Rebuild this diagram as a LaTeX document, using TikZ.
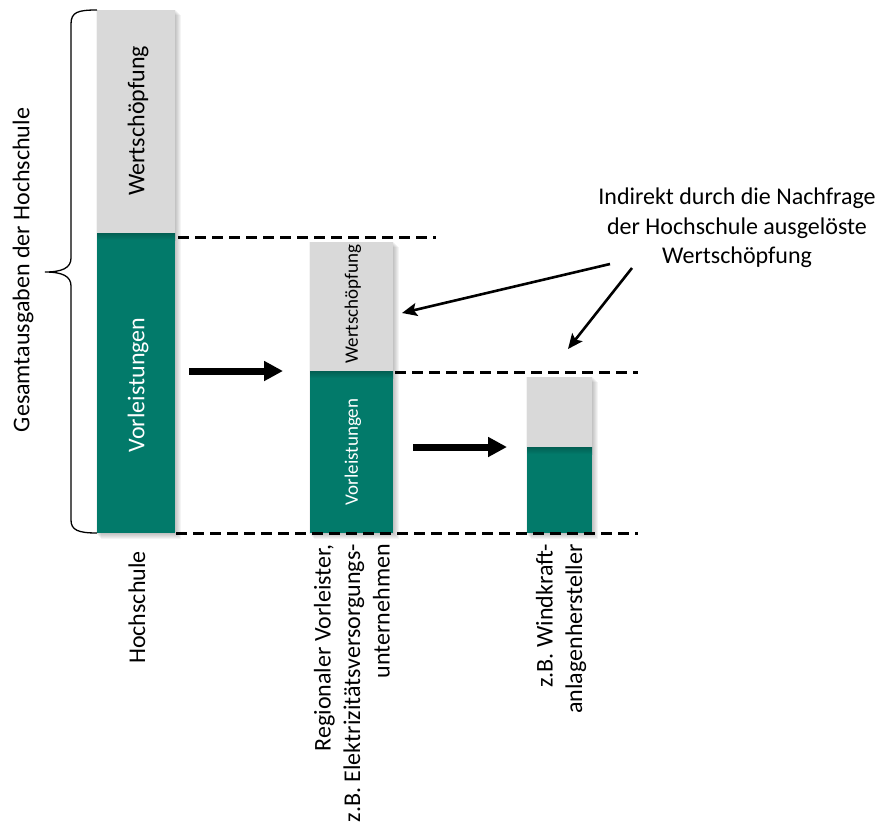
\documentclass[tikz,border=0pt]{standalone}
\usepackage{fontspec}
\setmainfont{Carlito}
\usetikzlibrary{arrows.meta}
\definecolor{hsgreen}{RGB}{2,122,106}
\definecolor{hsgrey}{RGB}{217,217,217}
\newcommand\hsshadow[4]{%
  \foreach \d in {1,...,6}{\fill[black,opacity=0.045] (#1+\d-2,#2+\d-1) rectangle (#3+\d,#4+\d);}}
\newcommand\hsinner[3]{%
  \shade[top color=hsgreen!78!black, bottom color=hsgreen] (#1,#3) rectangle (#2,#3+7);}
\begin{document}
\begin{tikzpicture}[x=1pt,y=-1pt,
  lbl/.style={font=\fontsize{24}{29.5}\selectfont, inner sep=0pt},
  vlbl/.style={lbl, rotate=90},
  inbar/.style={rotate=90, inner sep=0pt, text=white, font=\fontsize{24}{29}\selectfont},
  inbarsmall/.style={rotate=90, inner sep=0pt, font=\fontsize{19}{23}\selectfont},
  greyseg/.style={fill=hsgrey, inner sep=0pt, outer sep=0pt, anchor=north west},
  greenseg/.style={fill=hsgreen, inner sep=0pt, outer sep=0pt, anchor=north west},
  dashline/.style={line width=3pt, dash pattern=on 11pt off 6pt},
  bigarrow/.style={line width=7pt, -{Triangle[length=19pt,width=19pt]}},
  thinarrow/.style={line width=2.6pt, -{Stealth[length=15pt,width=13pt,inset=3pt]}}]
\useasboundingbox (0,0) rectangle (878,828);

% shadows
\hsshadow{97}{10}{175}{533}
\hsshadow{310}{242}{393}{533}
\hsshadow{527}{377}{592}{533}

% bar 1
\node[greyseg, minimum width=78pt, minimum height=223pt] (b1w) at (97,10) {};
\node[greenseg, minimum width=78pt, minimum height=300pt] (b1v) at (97,233) {};
\hsinner{97}{175}{233}
% bar 2
\node[greyseg, minimum width=83pt, minimum height=129pt] (b2w) at (310,242) {};
\node[greenseg, minimum width=83pt, minimum height=162pt] (b2v) at (310,371) {};
\hsinner{310}{393}{371}
% bar 3
\node[greyseg, minimum width=65pt, minimum height=70pt] (b3w) at (527,377) {};
\node[greenseg, minimum width=65pt, minimum height=86pt] (b3v) at (527,447) {};
\hsinner{527}{592}{447}

% texts in bars
\node[inbar, text=black] (t1w) at (138,121) {Wertschöpfung};
\node[inbar] (t1v) at (138,385) {Vorleistungen};
\node[inbarsmall] (t2w) at (353,304) {Wertschöpfung};
\node[inbarsmall, text=white] (t2v) at (353,452) {Vorleistungen};

% dashed lines
\coordinate (d1a) at (178,237); \coordinate (d1b) at (436,237);
\coordinate (d2a) at (395,372); \coordinate (d2b) at (638,372);
\coordinate (d3a) at (176,533); \coordinate (d3b) at (638,533);
\draw[dashline] (d1a) -- (d1b);
\draw[dashline] (d2a) -- (d2b);
\draw[dashline] (d3a) -- (d3b);

% big arrows
\coordinate (a1s) at (189,371); \coordinate (a1e) at (283,371);
\coordinate (a2s) at (413,447); \coordinate (a2e) at (507,447);
\draw[bigarrow] (a1s) -- (a1e);
\draw[bigarrow] (a2s) -- (a2e);

% brace
\draw[line width=1.3pt] (97,10) .. controls (78,10) and (71,12) .. (71,24) -- (71,258)
  .. controls (71,268) and (62,272) .. (45,272)
  .. controls (62,272) and (71,276) .. (71,286) -- (71,520)
  .. controls (71,530) and (78,533) .. (97,533);

% left label
\node[vlbl] (total) at (23,270) {Gesamtausgaben der Hochschule};

% note and arrows
\node[lbl, align=center] (note) at (737,228) {Indirekt durch die Nachfrage\\der Hochschule ausgelöste\\Wertschöpfung};
\coordinate (n1) at (610,264); \coordinate (n2) at (632,268);
\coordinate (e1) at (402,313); \coordinate (e2) at (568,349);
\draw[thinarrow] (n1) -- (e1);
\draw[thinarrow] (n2) -- (e2);

% bottom labels
\node[vlbl, anchor=east, align=right] (l1) at (137,551) {Hochschule};
\node[vlbl, anchor=east, align=right] (l2) at (352,544) {Regionaler Vorleister,\\z.B. Elektrizitätsversorgungs-\\unternehmen};
\node[vlbl, anchor=east, align=right] (l3) at (561,544) {z.B. Windkraft-\\anlagenhersteller};
\end{tikzpicture}
\end{document}
